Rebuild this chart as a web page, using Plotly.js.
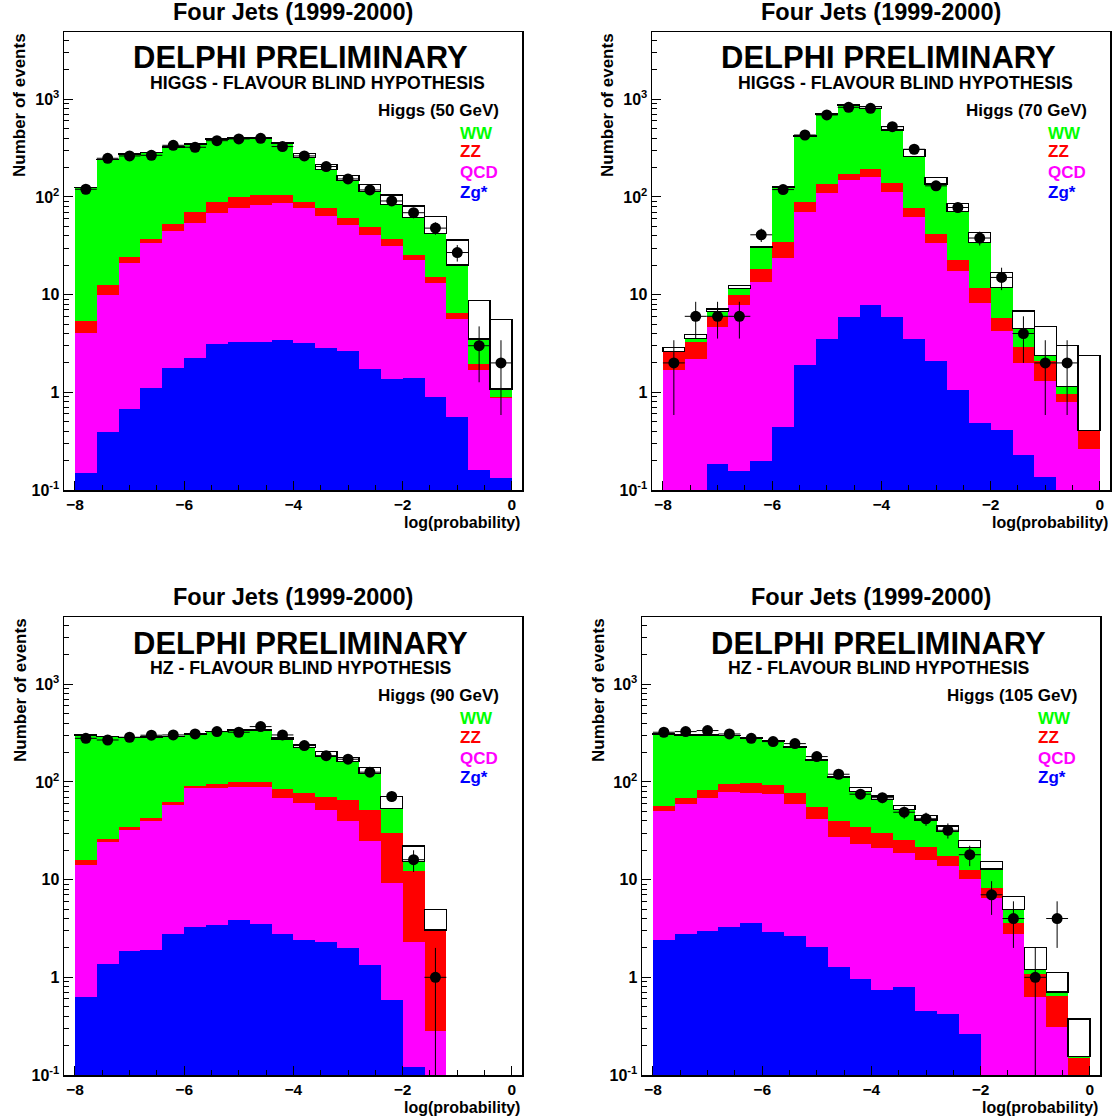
<!DOCTYPE html>
<html><head><meta charset="utf-8">
<script src="https://cdn.plot.ly/plotly-3.0.1.min.js"></script>
<style>html,body{margin:0;padding:0;background:#fff}#chart{width:1116px;height:1119px}</style>
</head><body><div id="chart"></div>
<script>
// bin centres of log(probability), bin width 0.4
const binCenters = [-7.8,-7.4,-7.0,-6.6,-6.2,-5.8,-5.4,-5.0,-4.6,-4.2,-3.8,-3.4,-3.0,-2.6,-2.2,-1.8,-1.4,-1.0,-0.6,-0.2];

// Higgs 50 GeV
const zg50  = [0.15,0.39,0.67,1.12,1.79,2.25,3.13,3.28,3.28,3.43,3.17,2.87,2.65,1.73,1.37,1.40,0.90,0.56,0.16,0.134];
const qcd50 = [3.9,9.5,20.2,32.5,43.4,52.4,65.0,74.5,80.2,82.7,73.3,61.5,49.0,39.1,30.4,21.2,12.2,5.07,1.53,0.735];
const zz50  = [1.3,2.7,3.4,3.6,7.8,15.6,20.8,21.5,21.5,18.9,13.1,12.1,8.8,8.1,5.1,2.7,1.9,0.81,0.26,0.02];
const ww50  = [120,230,250,247,270,279,304,300,294,249,163,115,86.5,64.6,47.2,36.6,27.5,13.7,1.57,0.19];
const sig50 = [0.5,1,1.5,2,3,4,5,6,8,10,27,24,18,21.5,21,19,20.4,16.2,5.2,4.5];
const data50 = [120,249,263,267,338,323,377,393,399,328,263,205,153,118,91,69,48,27,3,2];

// Higgs 70 GeV
const zg70  = [0.05,0.05,0.185,0.158,0.198,0.44,1.9,3.52,5.95,7.84,5.95,3.49,2.09,1.06,0.48,0.41,0.228,0.137,0.05,0.03];
const qcd70 = [1.64,2.14,4.51,7.68,13.4,23.3,68.9,106.5,143,153,107.5,59.4,31.5,16.5,7.8,3.87,1.75,1.18,0.75,0.23];
const zz70  = [0.88,1.11,1.16,2.09,4.6,10.9,18.1,26,23,31,24.5,13.6,8.2,5.0,3.3,1.54,0.96,0.77,0.16,0.14];
const ww70  = [0.05,0.27,0.84,1.67,12.1,91,332,566,703,617,347,182.5,94,48.2,22.8,6.0,1.58,0.28,0.18,0.005];
const sig70 = [0.25,0.36,0.43,0.9,0.5,1,3,5,10,32,40,49,22,15.3,8.8,5.1,2.28,2.33,1.89,1.96];
const data70 = [2,6,6,6,41,119,431,691,828,809,525,308,130,78,38,15,4,2,2,null];

// Higgs 90 GeV
const zg90  = [0.63,1.37,1.86,1.9,2.76,3.3,3.43,3.87,3.52,2.78,2.41,2.28,2.01,1.34,0.59,0.12,0.02,0,0,0];
const qcd90 = [13.6,22.7,30.4,38.3,55.4,82.8,83.5,85.7,86.1,66.4,58.1,49.4,37.9,23.6,8.7,2.2,0.26,0,0,0];
const zz90  = [1.5,2.0,2.6,3.0,4.2,5.6,7.7,11.4,11.4,14.9,17.3,19.1,25.5,26.8,20.5,9.8,2.7,0,0,0];
const ww90  = [287,265,249,246,229,218,233,240,240,192,147,111,95.6,71.3,23.9,3.2,0.07,0,0,0];
const sig90 = [1,1,1.5,1.5,2,2,3,3,4,6,14,23,17,18,17,6.8,1.92,0,0,0];
const data90 = [280,269,287,301,303,310,328,323,369,303,236,186,171,126,71,16,1,null,null,null];

// Higgs 105 GeV
const zg105  = [2.41,2.78,3.0,3.3,3.63,2.94,2.67,2.06,1.27,0.96,0.74,0.79,0.45,0.42,0.26,0.05,0.03,0.02,0.02,0.01];
const qcd105 = [48.4,57.2,66.2,76.3,74.2,71.9,57.3,39.4,26.2,22.0,20.2,18.1,15.4,13.5,9.8,6.5,2.73,0.61,0.29,0.04];
const zz105  = [6.5,9.2,14.3,15.8,20.6,19.2,17.8,14.3,12.7,11.9,8.9,6.6,5.9,3.7,2.5,1.7,0.81,0.44,0.34,0.10];
const ww105  = [253,234,219,203,182,169,148,112,70.8,44.7,36.7,27,19.0,13.4,8.7,4.6,1.4,0.14,0.06,0.005];
const sig105 = [1,1,1,1,1.5,1.5,2,2,3,8.6,5.4,4.8,4.4,4.4,3.8,2.4,1.73,0.82,0.41,0.22];
const data105 = [323,328,336,310,280,259,247,182,120,75,69,49,42,32,18,7,4,1,4,null];

const panelTitle = 'Four Jets (1999-2000)';
const mainLabel = 'DELPHI PRELIMINARY';
const hypLabels = ['HIGGS - FLAVOUR BLIND HYPOTHESIS','HIGGS - FLAVOUR BLIND HYPOTHESIS','HZ - FLAVOUR BLIND HYPOTHESIS','HZ - FLAVOUR BLIND HYPOTHESIS'];
const massLabels = ['Higgs (50 GeV)','Higgs (70 GeV)','Higgs (90 GeV)','Higgs (105 GeV)'];
const seriesNames = ['WW','ZZ','QCD','Zg*'];
const xTitle = 'log(probability)';
const yTitle = 'Number of events';
const yTickVals = [0.1,1,10,100,1000];
const yTickText = ['10<sup>-1</sup>','1','10','10<sup>2</sup>','10<sup>3</sup>'];
const xTickVals = [-8,-6,-4,-2,0];

const panelData = [
  [zg50,qcd50,zz50,ww50,sig50,data50],
  [zg70,qcd70,zz70,ww70,sig70,data70],
  [zg90,qcd90,zz90,ww90,sig90,data90],
  [zg105,qcd105,zz105,ww105,sig105,data105]
];
// pixel offsets of each panel frame relative to the first
const offsets = [[0,0],[588,0],[0,585],[578,585]];

const W = 1116, H = 1119;
const FONT = 'Liberation Sans, Arial, Helvetica, sans-serif';
const colors = {zg:'#0000ff', qcd:'#ff00ff', zz:'#ff0000', ww:'#00ff00'};
const px = x => x / W;
const py = y => 1 - y / H;

const minorY = [];
[0.1,1,10,100,1000].forEach(d => { for (let k = 2; k <= 9; k++) if (d*k < 5000) minorY.push(d*k); });

const traces = [];
const layout = {
  width: W, height: H,
  margin: {l:0, r:0, t:0, b:0},
  paper_bgcolor: '#fff', plot_bgcolor: '#fff',
  barmode: 'stack', bargap: 0,
  showlegend: false,
  font: {family: FONT, color: '#000'},
  annotations: []
};

function ann(text, x, y, o) {
  layout.annotations.push(Object.assign({
    text: text, x: px(x), y: py(y), xref: 'paper', yref: 'paper',
    showarrow: false, xanchor: 'center', yanchor: 'middle',
    font: {family: FONT, size: 17, color: '#000', weight: 'bold'}
  }, o || {}));
}

panelData.forEach((pd, i) => {
  const [zg, qcd, zz, ww, sig, dat] = pd;
  const [dx, dy] = offsets[i];
  const n = i + 1;
  const xa = n === 1 ? 'x' : 'x' + n;
  const ya = n === 1 ? 'y' : 'y' + n;
  const bar = (y, color, line) => ({
    type: 'bar', x: binCenters, y: y, xaxis: xa, yaxis: ya,
    marker: {color: color, line: line || {width: 0}}, hoverinfo: 'skip'
  });
  traces.push(bar(zg, colors.zg));
  traces.push(bar(qcd, colors.qcd));
  traces.push(bar(zz, colors.zz));
  traces.push(bar(ww, colors.ww));
  traces.push(bar(sig, '#ffffff', {color: '#000', width: 1.3}));
  const errUp = dat.map(v => v == null ? null : Math.sqrt(v));
  const errDn = dat.map(v => v == null ? null : Math.min(Math.sqrt(v), v * 0.9999));
  traces.push({
    type: 'scatter', mode: 'markers', x: binCenters, y: dat, xaxis: xa, yaxis: ya,
    marker: {color: '#000', size: 11},
    error_y: {type: 'data', array: errUp, arrayminus: errDn, color: '#000', thickness: 1, width: 0},
    error_x: {type: 'constant', value: 0.2, color: '#000', thickness: 1, width: 0},
    hoverinfo: 'skip'
  });
  const xk = n === 1 ? 'xaxis' : 'xaxis' + n;
  const yk = n === 1 ? 'yaxis' : 'yaxis' + n;
  layout[xk] = {
    domain: [px(64 + dx), px(522 + dx)], anchor: ya,
    range: [-8.2, 0.185], tickmode: 'array', tickvals: xTickVals,
    ticks: 'inside', ticklen: 9, tickwidth: 1, tickcolor: '#000',
    minor: {tickmode: 'linear', tick0: 0, dtick: 0.5, ticks: 'inside', ticklen: 5, tickcolor: '#000', tickwidth: 1},
    showgrid: false, zeroline: false, showline: true, mirror: true, linecolor: '#000', linewidth: 1.5,
    tickfont: {family: FONT, size: 15.5, color: '#000', weight: 'bold'}
  };
  layout[yk] = {
    domain: [1 - (490 + dy) / H, 1 - (32 + dy) / H], anchor: xa,
    type: 'log', range: [-1, 3.689], tickmode: 'array', tickvals: yTickVals, ticktext: yTickText,
    ticks: 'inside', ticklen: 9, tickwidth: 1, tickcolor: '#000',
    minor: {tickmode: 'array', tickvals: minorY, ticks: 'inside', ticklen: 5, tickcolor: '#000', tickwidth: 1},
    showgrid: false, zeroline: false, showline: true, mirror: true, linecolor: '#000', linewidth: 1.5,
    tickfont: {family: FONT, size: 16, color: '#000', weight: 'bold'}
  };

  // texts
  ann(panelTitle, 293 + dx, 12 + dy, {font: {family: FONT, size: 23.5, color: '#000', weight: 'bold'}});
  ann(mainLabel, 300 + dx, 58 + dy, {font: {family: FONT, size: 31, color: '#000', weight: 'bold'}});
  ann(hypLabels[i], 148 + dx, 83 + dy, {xanchor: 'left', font: {family: FONT, size: 17.7, color: '#000', weight: 'bold'}});
  ann(massLabels[i], 501 + dx, 110 + dy, {xanchor: 'right'});
  const legY = [133, 152, 173, 192];
  const legC = [colors.ww, colors.zz, colors.qcd, colors.zg];
  seriesNames.forEach((s, k) => ann(s, 458 + dx, legY[k] + dy, {xanchor: 'left', font: {family: FONT, size: 17, color: legC[k], weight: 'bold'}}));
  ann(xTitle, 522 + dx, 522 + dy, {xanchor: 'right', font: {family: FONT, size: 16, color: '#000', weight: 'bold'}});
  ann(yTitle, 20 + dx, 31 + dy, {textangle: -90, yanchor: 'top', font: {family: FONT, size: 17, color: '#000', weight: 'bold'}});
});

Plotly.newPlot('chart', traces, layout, {displayModeBar: false, staticPlot: true});
</script>
</body></html>
